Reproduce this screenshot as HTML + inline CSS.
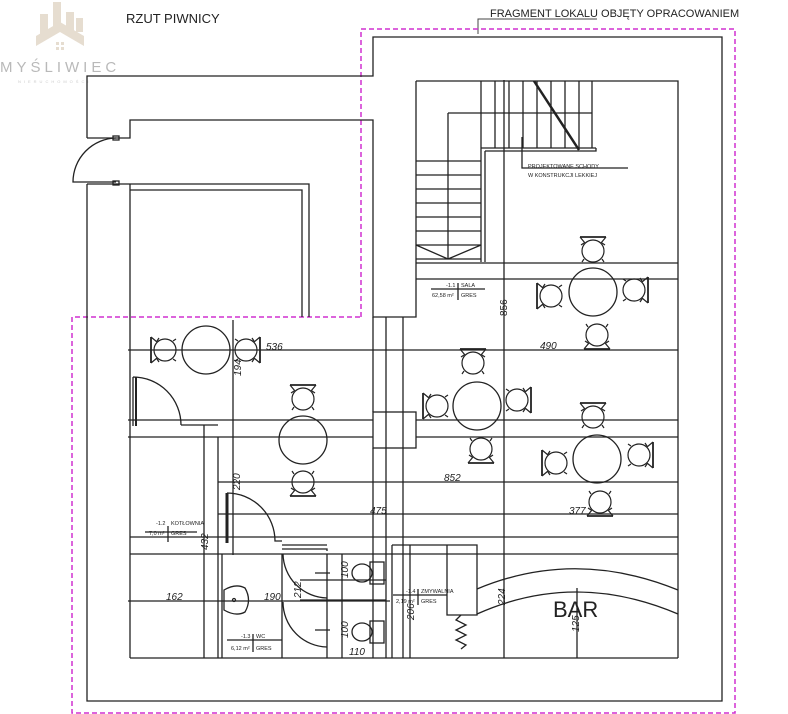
<!DOCTYPE html>
<html><head><meta charset="utf-8"><style>
html,body{margin:0;padding:0;background:#fff;}
svg{display:block;}
text{font-family:"Liberation Sans",sans-serif;fill:#222;}
</style></head><body>
<svg width="788" height="714" viewBox="0 0 788 714" xmlns="http://www.w3.org/2000/svg">
<defs>
<g id="ch" fill="none" stroke="#222" stroke-width="1.2">
<line x1="-13" y1="-13" x2="13" y2="-13" stroke-width="1.8"/>
<circle cx="0" cy="1" r="11"/>
<path d="M-13,-13 L-8,-7 M-9,-7 l-3,2 M13,-13 L8,-7 M9,-7 l3,2"/>
<path d="M-9,9 l-2,3 M9,9 l2,3"/>
</g>
</defs>
<!-- logo -->
<g fill="#e6ddd0">
<rect x="40" y="14" width="8" height="20"/><rect x="53" y="2" width="8" height="30"/><rect x="66" y="12" width="8" height="22"/><rect x="76" y="18" width="7" height="14"/>
<path d="M36,36 L60,22 L84,36 L84,46 L60,32 L36,46Z"/>
<rect x="56" y="42" width="3" height="3"/><rect x="61" y="42" width="3" height="3"/><rect x="56" y="47" width="3" height="3"/><rect x="61" y="47" width="3" height="3"/>
</g>
<text x="0" y="72" font-size="15" letter-spacing="4" style="fill:#b9b9b9">MYŚLIWIEC</text>
<text x="18" y="83" font-size="4" letter-spacing="3" style="fill:#ccc">NIERUCHOMOŚCI</text>
<text x="126" y="23" font-size="13">RZUT PIWNICY</text>
<text x="490" y="17" font-size="11">FRAGMENT LOKALU OBJĘTY OPRACOWANIEM</text>
<path d="M478,34 V19 H597" fill="none" stroke="#444" stroke-width="1"/>
<!-- magenta -->
<path d="M361,317 V29 H735 V713 H72 V317 Z" fill="none" stroke="#d030d0" stroke-width="1.5" stroke-dasharray="5,3"/>
<g fill="none" stroke="#222" stroke-width="1.3">
<!-- outer walls -->
<path d="M87,138 V76 H373 V37 H722 V701 H87 V184"/>
<path d="M87,138 H130 V120 H373 V317 H416 V81"/>
<path d="M87,184 H309 V317"/>
<path d="M130,184 V658 M130,190 H302 V317"/>
<path d="M116,138 A44,44 0 0 0 73,182 L116,182" />
<rect x="113" y="136" width="6" height="4"/><rect x="113" y="181" width="6" height="4"/>
<!-- stairs -->
<path d="M416,81 H678 V658 M416,263 H678 M416,279 H678"/>
<path d="M481,81 V148 M495,81 V148 M509,81 V148 M523,81 V148 M537,81 V148 M551,81 V148 M565,81 V148 M579,81 V148 M592,81 V148"/>
<path d="M448,113 H592 M448,113 V259 M481,148 H596 M485,151 H596 V148 M481,148 V262 M485,151 V262"/>
<path d="M416,161 H481 M416,175 H481 M416,189 H481 M416,203 H481 M416,217 H481 M416,231 H481 M416,245 H481 M416,245 L448,259 L481,245 M416,259 H481"/>
<path d="M534,81 L579,150" stroke-width="2.5"/>
<path d="M522,137 V168 H628"/>
<path d="M504,80 V658"/>
<!-- grid -->
<path d="M128,350 H678 M128,420 H373 M416,420 H678 M128,437 H373 M416,437 H678 M218,482 H678 M218,514 H678 M130,537 H678 M130,554 H678 M128,601 H390 M130,658 H678"/>
<path d="M233,320 V437 M218,437 V658 M222,554 V658 M386,317 V658 M403,317 V658 M373,317 V412 M373,448 V658"/>
<rect x="373" y="412" width="43" height="36"/>
<path d="M204,425 V658"/>
<!-- rooms -->
<path d="M233,437 V555"/>
<path d="M282,545 H327 M282,549 H327 V551 M282,554 V658"/>
<path d="M327,554 V658 M342,554 V658"/>
<path d="M300,580 H386 M300,600 H386 M392,545 V658 M392,545 H477 V615 H447 V545"/>
<path d="M410,545 V658"/>
<!-- doors -->
<path d="M133,377 A48,48 0 0 1 181,425 M133,377 V426 M181,425 H218" />
<path d="M136,377 V426" stroke-width="2"/>
<path d="M227,493 A48,48 0 0 1 275,541 H282" />
<path d="M227,493 V543" stroke-width="3"/>
<path d="M283,554 A45,45 0 0 0 327,598 M283,602 A45,45 0 0 0 327,647"/>
<!-- sink, toilets -->
<path d="M224,590 Q236,583 245,588 Q252,600 245,612 Q236,617 224,610 Z"/>
<circle cx="234" cy="600" r="1.5"/>
<ellipse cx="362" cy="573" rx="10" ry="9"/><rect x="370" y="562" width="14" height="22"/>
<ellipse cx="362" cy="632" rx="10" ry="9"/><rect x="370" y="621" width="14" height="22"/>
<path d="M315,573 H330 M315,630 H330"/>
<path d="M461,615 l-5,5 l10,5 l-10,5 l10,5 l-10,5 l10,5 l-5,4"/>
<!-- bar -->
<path d="M477,589 Q575,548 678,590 M477,614 Q575,570 678,614"/>
<path d="M577,588 V658"/>
<!-- room label lines -->
<path d="M431,289 H485 M458,283 V300"/>
<path d="M145,532 H197 M168,526 V542"/>
<path d="M227,640 H282 M253,634 V652"/>
<path d="M393,595 H447 M418,589 V605"/>
<!-- tables -->
<circle cx="206" cy="350" r="24"/><circle cx="303" cy="440" r="24"/><circle cx="477" cy="406" r="24"/><circle cx="593" cy="292" r="24"/><circle cx="597" cy="459" r="24"/>
</g>
<!-- chairs -->
<use href="#ch" transform="translate(164,350) rotate(-90)"/>
<use href="#ch" transform="translate(247,350) rotate(90)"/>
<use href="#ch" transform="translate(303,398)"/>
<use href="#ch" transform="translate(303,483) rotate(180)"/>
<use href="#ch" transform="translate(436,406) rotate(-90)"/>
<use href="#ch" transform="translate(518,400) rotate(90)"/>
<use href="#ch" transform="translate(473,362)"/>
<use href="#ch" transform="translate(481,450) rotate(180)"/>
<use href="#ch" transform="translate(593,250)"/>
<use href="#ch" transform="translate(550,296) rotate(-90)"/>
<use href="#ch" transform="translate(635,290) rotate(90)"/>
<use href="#ch" transform="translate(597,336) rotate(180)"/>
<use href="#ch" transform="translate(593,416)"/>
<use href="#ch" transform="translate(555,463) rotate(-90)"/>
<use href="#ch" transform="translate(640,455) rotate(90)"/>
<use href="#ch" transform="translate(600,503) rotate(180)"/>
<!-- texts -->
<g font-style="italic" font-size="10">
<text x="266" y="350">536</text>
<text x="540" y="349">490</text>
<text x="444" y="481">852</text>
<text x="370" y="514">475</text>
<text x="569" y="514">377</text>
<text x="166" y="600">162</text>
<text x="264" y="600">190</text>
<text x="349" y="655">110</text>
<text transform="translate(241,376) rotate(-90)">194</text>
<text transform="translate(240,490) rotate(-90)">220</text>
<text transform="translate(208,550) rotate(-90)">432</text>
<text transform="translate(301,598) rotate(-90)">212</text>
<text transform="translate(348,578) rotate(-90)">100</text>
<text transform="translate(348,638) rotate(-90)">100</text>
<text transform="translate(414,620) rotate(-90)">206</text>
<text transform="translate(505,605) rotate(-90)">224</text>
<text transform="translate(579,632) rotate(-90)">125</text>
<text transform="translate(507,316) rotate(-90)" font-style="normal">856</text>
</g>
<text x="553" y="617" font-size="22">BAR</text>
<g font-size="5.5">
<text x="528" y="168">PROJEKTOWANE SCHODY</text>
<text x="528" y="177">W KONSTRUKCJI LEKKIEJ</text>
<text x="446" y="287">-1.1</text><text x="461" y="287">SALA</text>
<text x="432" y="297">62,58 m²</text><text x="461" y="297">GRES</text>
<text x="156" y="525">-1.2</text><text x="171" y="525">KOTŁOWNIA</text>
<text x="149" y="535">7,0 m²</text><text x="171" y="535">GRES</text>
<text x="241" y="638">-1.3</text><text x="256" y="638">WC</text>
<text x="231" y="650">6,12 m²</text><text x="256" y="650">GRES</text>
<text x="406" y="593">-1.4</text><text x="421" y="593">ZMYWALNIA</text>
<text x="396" y="603">2,19 m²</text><text x="421" y="603">GRES</text>
</g>
</svg>
</body></html>
